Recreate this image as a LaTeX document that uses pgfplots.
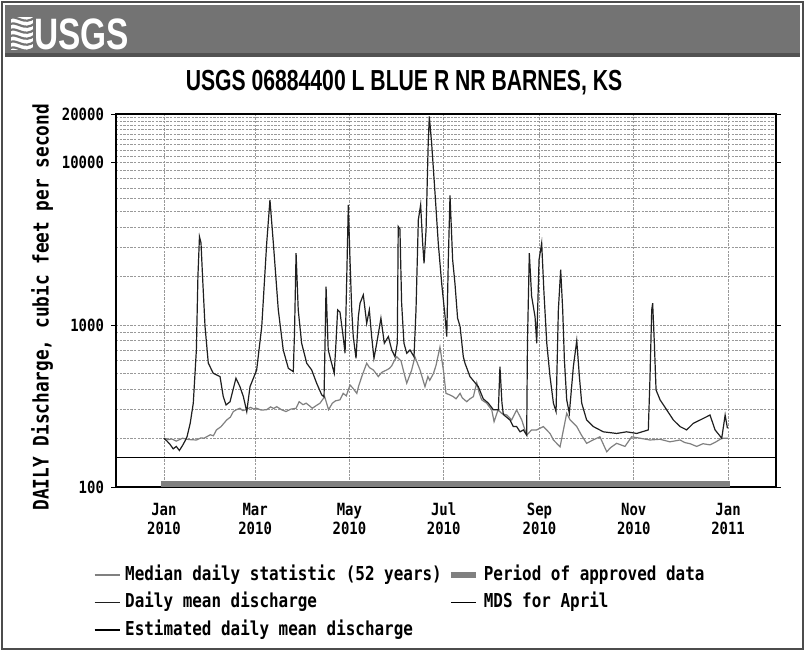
\documentclass[border=0pt]{standalone}
\usepackage{fontspec}
\setmainfont{Liberation Sans}
\newfontfamily\monoc[FakeStretch=0.83]{DejaVu Sans Mono}
\newfontfamily\titlef[FakeStretch=0.73]{Liberation Sans}
\newfontfamily\logof[FakeStretch=0.76]{Liberation Sans}
\usepackage{pgfplots}
\pgfplotsset{compat=1.18}
\usepackage{pgfplotstable}

\pgfplotstableread{
day q
0 200
2 192
4 183
6 172
8 178
10 168
12 180
14 195
15 205
17 247
19 329
20 480
21 701
22 1985
23 3500
24 3200
25 1985
26.6 978
28.7 582
31.9 503
36.3 480
38.4 361
40.2 321
42.8 336
46.6 469
49.2 416
51.4 361
53.6 292
55.7 416
60 527
63.3 978
66.5 3194
68.6 5900
70.8 3194
74 1238
77.2 701
80.5 540
83.7 515
84.5 900
85.5 2774
86.9 1238
89.1 771
92.4 580
95.6 527
98.8 437
102.1 370
103.6 360
104.9 1722
106.3 701
108.5 580
110.2 503
111.3 771
112.4 1238
113.9 1200
115.7 889
117.2 669
118.3 1985
119.3 5500
120.4 2520
121.5 1238
122.5 847
124.3 622
125.8 1125
126.9 1361
129 1531
131.2 1023
132.9 1238
134.4 847
135.9 622
137.7 771
140.4 1100
142.6 771
145.2 847
147.4 701
149.5 636
151 771
151.6 4045
152.7 3900
153.8 1361
155.3 771
157.1 669
159.2 701
161.8 636
163.1 1238
164.6 4450
166.1 5510
167.4 3194
168.3 2396
169.6 3857
171 13250
171.7 19300
173.2 13250
175.4 6500
177.5 3194
179.7 1808
181.9 1125
183 847
184 2520
185.1 6300
186.8 2520
188.3 1800
190 1100
191.6 978
193.7 636
194.8 580
198 480
203.4 416
206.6 350
209.9 329
213.1 300
216.4 300
217.4 552
218.7 330
219.6 280
223.9 259
226 236
228.2 236
230.4 219
232.6 225
234.7 209
235.2 771
236.4 2774
237.9 1500
240.1 1125
241.2 771
242.7 2520
244.4 3194
245.9 1567
247.7 771
249.8 480
252 329
253.7 292
255.2 1238
256.7 2190
258 1238
259.1 608
260.6 345
262.3 285
264.9 552
267.1 800
268.8 480
270.3 329
273.5 259
277.8 236
284.3 219
292.9 214
299.4 219
305.9 214
313.4 225
314.5 480
315.6 1238
316.2 1361
317.3 771
318.4 397
321 345
325.3 299
329.6 259
333.9 236
338.2 225
342.5 247
349 265
353.3 278
356.6 225
360.9 200
363.1 278
364.6 230
}\dailymean

\pgfplotstableread{
day q
0 200
3 196
5 198
8 192
12 200
15 197
17 196
21 195
24 201
26 200
30 210
32 207
34 225
37 236
40.6 259
43 270
44.9 292
47 300
49.2 306
51 296
53 300
56 310
58 303
60 306
63 298
66.5 300
69 312
71 305
73 313
76 300
79 292
82 302
85.5 306
87.5 336
90 322
92 329
94 318
96 306
99 320
101 329
104 361
106.5 300
109 329
111 340
113.9 345
116 378
118 365
120.4 426
122 410
124.8 378
126 420
128 480
131.2 580
133 545
135.5 527
137 505
138.7 480
141 510
144.1 527
146 540
147.4 560
149 600
150.6 636
153.4 600
155 520
157.1 437
160.3 527
162.4 636
164 580
165.7 527
168.9 416
170.8 480
172 455
174.3 500
176 560
178.6 730
180.8 527
182.5 378
185 370
187.2 361
189 350
191.6 378
193 355
195.9 336
198 350
200.2 361
202.4 440
204 380
205.6 345
208.8 329
212.1 299
213.6 253
216.2 299
218.6 284
221.8 278
225 259
228.2 299
231.5 259
234.7 209
237.9 225
241.2 225
245.5 236
249.8 214
252 195
256.3 177
260.6 285
262.7 260
267.1 236
270 210
273.5 186
277.6 195
282.1 204
286.5 165
289 175
292.9 186
298.3 178
302.6 204
308 200
314.5 195
321 197
327.4 190
333.9 195
337 188
340.4 185
344.7 178
348.8 185
353.3 182
357.2 190
361.1 200
365 200
}\median

\begin{document}
\begin{tikzpicture}
\path[use as bounding box] (0,0) rectangle (402.5pt,-327pt);
\fill[white] (0,0) rectangle (402.5pt,-327pt);
\begin{axis}[
  at={(58pt,-243.5pt)}, anchor=south west,
  scale only axis, width=330pt, height=186.5pt,
  xmin=-31, xmax=396, ymode=log, ymin=100, ymax=20000,
  axis line style={black, line width=0.7pt},
  xtick={0,59,120,181,243,304,365},
  xticklabels={{Jan\\2010},{Mar\\2010},{May\\2010},{Jul\\2010},{Sep\\2010},{Nov\\2010},{Jan\\2011}},
  xticklabel style={align=center, font=\monoc\bfseries\fontsize{8.4}{9.5}\selectfont, yshift=-2pt},
  x tick style={draw=none},
  ytick={100,1000,10000,20000},
  yticklabels={100,1000,10000,20000},
  yticklabel style={font=\monoc\bfseries\fontsize{8.4}{9.5}\selectfont},
  minor ytick={200,300,400,500,600,700,800,900,2000,3000,4000,5000,6000,7000,8000,9000,11000,12000,13000,14000,15000,16000,17000,18000,19000},
  y tick style={black, thin}, major tick length=2.5pt, minor tick length=0pt, tick align=outside,
  xmajorgrids, ymajorgrids, yminorgrids,
  major grid style={black!40, line width=0.4pt, dash pattern=on 1.2pt off 0.6pt},
  minor grid style={black!40, line width=0.4pt, dash pattern=on 1.2pt off 0.6pt},
  ylabel={DAILY Discharge, cubic feet per second},
  ylabel style={font=\monoc\bfseries\fontsize{10.7}{12}\selectfont, at={(axis description cs:-0.112,0.482)}, anchor=center},
  legend columns=2, legend cell align=left,
  legend style={draw=none, fill=none, at={(axis description cs:-0.043,-0.2)}, anchor=north west,
    font=\monoc\bfseries\fontsize{9.6}{11}\selectfont,
    nodes={inner sep=0pt, text height=7pt, text depth=2pt},
    row sep=4.75pt, column sep=2.5pt,
    /tikz/every even column/.append style={column sep=3pt}},
  legend image code/.code={\draw[#1] (0pt,0pt) -- (12.5pt,0pt);},
  clip=true,
]
\addplot[black!50, line width=0.6pt] table[x=day, y=q] {\median};
\addlegendentry{Median daily statistic (52 years)}
\addplot[black!50, line width=3pt] coordinates {(-2,104) (366,104)};
\addlegendentry{Period of approved data}
\addplot[black!88, line width=0.6pt] table[x=day, y=q] {\dailymean};
\addlegendentry{Daily mean discharge}
\addplot[black, line width=0.5pt] coordinates {(-31,151) (396,151)};
\addlegendentry{MDS for April}
\addlegendimage{black, line width=0.6pt}
\addlegendentry{Estimated daily mean discharge}
\end{axis}
\begin{scope}[x=0.5pt,y=-0.5pt]
 \draw[black!70, line width=0.6pt] (2,2) rectangle (803,649);
 \fill[black!55] (5,5) rectangle (800,57);
 \fill[black!68] (5,53) rectangle (800,57);
 \begin{scope}
  \clip (11,17) rectangle (33,50);
  \fill[white] (11,17) rectangle (33,50);
  \foreach \k in {0,...,5} \draw[black!55, line width=1.1pt] (9,{19+6*\k}) .. controls (16,{13+6*\k}) and (24,{27+6*\k}) .. (35,{17+6*\k});
 \end{scope}
 \node[anchor=west, text=white, inner sep=0pt, font=\logof\bfseries\fontsize{22}{22}\selectfont] at (34,34) {USGS};
 \node[font=\titlef\bfseries\fontsize{14.5}{16}\selectfont, inner sep=0pt] at (404,83) {USGS 06884400 L BLUE R NR BARNES, KS};
\end{scope}
\end{tikzpicture}
\end{document}
